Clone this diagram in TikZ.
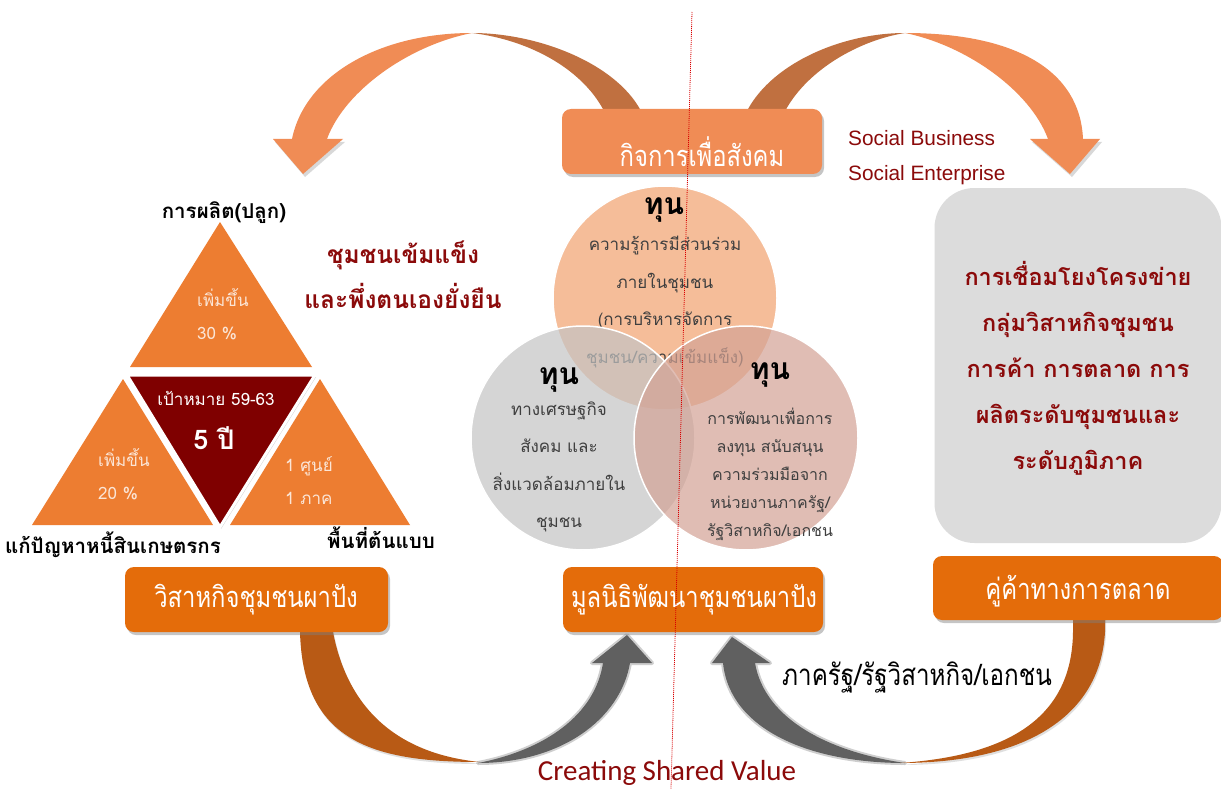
\documentclass[tikz,border=0pt]{standalone}
\usepackage{fontspec}
\setmainfont[Script=Thai]{Loma}
\newfontfamily\latinsans{Liberation Sans}
\newfontfamily\csvfont{Carlito}
\newfontfamily\condthai[Script=Thai,FakeStretch=0.82]{Loma}
\usetikzlibrary{shadows}
\definecolor{arrowlight}{HTML}{F08C55}
\definecolor{arrowdark}{HTML}{C07040}
\definecolor{boxdark}{HTML}{E46C0A}
\definecolor{arcbrown}{HTML}{B85A15}
\definecolor{arcgrey}{HTML}{606060}
\definecolor{triorange}{HTML}{ED7D31}
\definecolor{trired}{HTML}{7F0000}
\definecolor{darkred}{HTML}{8B0A0A}
\definecolor{greybox}{HTML}{DCDCDC}
\definecolor{ctopc}{HTML}{F1A26F}
\definecolor{cleftc}{HTML}{C4C4C4}
\definecolor{crightc}{HTML}{D3A295}
\definecolor{circtext}{HTML}{3F3F3F}
\definecolor{tritext}{HTML}{FBE5D6}
\begin{document}
\begin{tikzpicture}[x=1pt,y=-1pt,
  obox/.style={rounded corners=9pt, inner sep=0pt, drop shadow={opacity=0.45,shadow xshift=2pt,shadow yshift=-3pt}},
  boxtext/.style={text=white, font=\condthai\fontsize{29}{32}\selectfont, inner sep=0pt},
  circ/.style={circle, minimum size=224pt, inner sep=0pt, draw=white, line width=1.5pt, fill opacity=0.7},
  tun/.style={font=\bfseries\fontsize{30}{34}\selectfont, text=black, inner sep=0pt},
  ctext/.style={font=\fontsize{17}{37.5}\selectfont, text=circtext, align=center, inner sep=0pt},
  trit/.style={font=\fontsize{17}{33}\selectfont, text=tritext, align=left, inner sep=0pt, anchor=west},
  trilabel/.style={font=\bfseries\fontsize{20.5}{24}\selectfont, text=black, inner sep=0pt},
  redbold/.style={font=\bfseries\fontsize{24.5}{45.5}\selectfont, text=darkred, align=center, inner sep=0pt},
  soctext/.style={font=\latinsans\fontsize{20.8}{24}\selectfont, text=darkred, inner sep=0pt, anchor=west},
  softgrey/.style={fill=arcgrey, draw=arcgrey, draw opacity=0.3, line width=4pt, line join=round}
]
\useasboundingbox (0,0) rectangle (1221,789);
\fill[white] (0,0) rectangle (1221,789);

% ---------- top arcs ----------
\fill[arrowdark] (472,33) .. controls (540,33) and (620,65) .. (643,115) -- (606,115) .. controls (585,70) and (530,40) .. (472,33) -- cycle;
\fill[arrowlight] (292,139) .. controls (305,75) and (380,33) .. (472,33) .. controls (410,45) and (345,90) .. (327,139) -- cycle;
\fill[arrowlight, drop shadow={opacity=0.3,shadow xshift=2pt,shadow yshift=-3pt}] (273,139) -- (343,139) -- (303,174) -- cycle;

\fill[arrowdark] (745,115) .. controls (768,65) and (840,33) .. (905,33) .. controls (860,40) and (805,70) .. (783,115) -- cycle;
\fill[arrowlight] (905,33) .. controls (1015,33) and (1080,70) .. (1083,139) -- (1048,139) .. controls (1030,90) and (965,45) .. (905,33) -- cycle;
\fill[arrowlight, drop shadow={opacity=0.3,shadow xshift=2pt,shadow yshift=-3pt}] (1030,139) -- (1100,139) -- (1070,174) -- cycle;

% ---------- bottom arcs ----------
\fill[arcbrown, drop shadow={opacity=0.25,shadow xshift=1pt,shadow yshift=-2pt}] (300,625) -- (300,632) .. controls (303,740) and (370,762) .. (480,762) .. controls (410,755) and (350,720) .. (333,632) -- (333,625) -- cycle;
\path[softgrey] (478,763) .. controls (560,763) and (620,720) .. (630,663) -- (652,663) -- (627,635) -- (592,663) -- (603,663) .. controls (595,715) and (545,750) .. (478,763) -- cycle;
\path[softgrey] (723,663) .. controls (730,730) and (810,763) .. (905,763) .. controls (830,752) and (765,720) .. (755,663) -- (770,663) -- (732,637) -- (712,663) -- cycle;
\fill[arcbrown, drop shadow={opacity=0.25,shadow xshift=1pt,shadow yshift=-2pt}] (900,763) .. controls (1020,763) and (1100,720) .. (1105,632) -- (1105,615) -- (1073,615) -- (1073,632) .. controls (1072,710) and (1020,755) .. (900,763) -- cycle;

% ---------- boxes ----------
\node[obox, fill=arrowlight, minimum width=260pt, minimum height=65pt] (soc) at (692,141.5) {};
\node[boxtext] (soct) at (702,152) {กิจการเพื่อสังคม};
\node[obox, fill=boxdark, minimum width=263pt, minimum height=65pt] (lbox) at (256.5,599.5) {};
\node[boxtext] (lboxt) at (256,600) {วิสาหกิจชุมชนผาปัง};
\node[obox, fill=boxdark, minimum width=260pt, minimum height=65pt] (mbox) at (693,599.5) {};
\node[boxtext] (mboxt) at (694,600) {มูลนิธิพัฒนาชุมชนผาปัง};
\node[obox, fill=boxdark, minimum width=290pt, minimum height=64pt] (rbox) at (1078,588) {};
\node[boxtext] (rboxt) at (1078,591) {คู่ค้าทางการตลาด};

\node[rounded corners=40pt, fill=greybox, minimum width=287pt, minimum height=355pt, inner sep=0pt] (gbox) at (1078,365.5) {};
\node[font=\bfseries\fontsize{23.5}{46}\selectfont, text=darkred, align=center, inner sep=0pt] (gboxt) at (1078,368)
  {การเชื่อมโยงโครงข่าย\\กลุ่มวิสาหกิจชุมชน\\การค้า การตลาด การ\\ผลิตระดับชุมชนและ\\ระดับภูมิภาค};

\node[soctext] (sb) at (848,138) {Social Business};
\node[soctext] (se) at (848,175) {Social Enterprise};

% ---------- triangles ----------
\fill[triorange] (220,222) -- (312,367) -- (130,367) -- cycle;
\fill[triorange] (123,379) -- (213,525) -- (32,525) -- cycle;
\fill[triorange] (320,379) -- (410,525) -- (230,525) -- cycle;
\fill[trired, draw=white, line width=3pt, drop shadow={opacity=0.35,shadow xshift=1pt,shadow yshift=-2pt}] (127,375) -- (315,375) -- (220,527) -- cycle;

\node[trit] (t1) at (197,314.5) {เพิ่มขึ้น\\30 \%};
\node[trit] (t2) at (98,474) {เพิ่มขึ้น\\20 \%};
\node[trit] (t3) at (285,481) {1 ศูนย์\\1 ภาค};
\node[font=\fontsize{17}{20}\selectfont, text=white, inner sep=0pt] (goal) at (216,398) {เป้าหมาย 59-63};
\node[font=\bfseries\fontsize{27}{30}\selectfont, text=white, inner sep=0pt] (fivey) at (214,438) {5 ปี};

\node[trilabel] (l1) at (224,213) {การผลิต(ปลูก)};
\node[trilabel] (l2) at (113,545) {แก้ปัญหาหนี้สินเกษตรกร};
\node[trilabel] (l3) at (381,538) {พื้นที่ต้นแบบ};
\node[redbold] (strong) at (403,274.5) {ชุมชนเข้มแข็ง\\และพึ่งตนเองยั่งยืน};

% ---------- circles ----------
\node[circ, fill=ctopc] (ctop) at (665,298) {};
\node[tun] (tun1) at (664,210) {ทุน};
\node[ctext] (ct1) at (665,302) {ความรู้การมีส่วนร่วม\\ภายในชุมชน\\(การบริหารจัดการ\\ชุมชน/ความเข้มแข็ง)};
\node[circ, fill=cleftc] (cleft) at (583,438) {};
\node[circ, fill=crightc] (cright) at (746,438) {};
\node[tun] (tun2) at (559,380) {ทุน};
\node[ctext] (ct2) at (559,467) {ทางเศรษฐกิจ\\สังคม และ\\สิ่งแวดล้อมภายใน\\ชุมชน};
\node[tun] (tun3) at (770,375) {ทุน};
\node[ctext, font=\fontsize{16}{28}\selectfont] (ct3) at (770,474) {การพัฒนาเพื่อการ\\ลงทุน สนับสนุน\\ความร่วมมือจาก\\หน่วยงานภาครัฐ/\\รัฐวิสาหกิจ/เอกชน};

% ---------- bottom labels ----------
\node[font=\condthai\fontsize{29.5}{32}\selectfont, text=black, inner sep=0pt] (gov) at (917,677) {ภาครัฐ/รัฐวิสาหกิจ/เอกชน};
\node[font=\csvfont\fontsize{29}{32}\selectfont, text=darkred, inner sep=0pt] (csv) at (667,773) {Creating Shared Value};

% ---------- guide line ----------
\draw[red!85!black, line width=0.8pt, dash pattern=on 1pt off 1pt] (692,12) -- (671,789);
\end{tikzpicture}
\end{document}
